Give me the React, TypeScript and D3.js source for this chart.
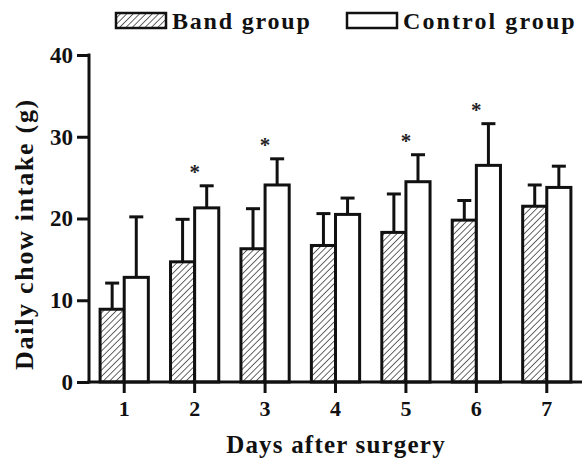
import React, { useEffect, useRef } from "react";
import * as d3 from "d3";

const days = ["1", "2", "3", "4", "5", "6", "7"];
const bandMean = [8.9, 14.7, 16.3, 16.7, 18.3, 19.8, 21.5];
const bandErr = [3.2, 5.2, 4.9, 3.9, 4.7, 2.4, 2.6];
const controlMean = [12.8, 21.3, 24.1, 20.5, 24.5, 26.5, 23.8];
const controlErr = [7.4, 2.7, 3.2, 2.0, 3.3, 5.1, 2.6];
const significant = [false, true, true, false, true, true, false];
const yTicks = [0, 10, 20, 30, 40];

const font = "'Liberation Serif', 'DejaVu Serif', serif";

const App = () => {
    const ref = useRef<SVGSVGElement>(null);

    useEffect(() => {
        const svg = d3.select(ref.current);
        svg.selectAll("*").remove();

        const width = 588;
        const height = 461;
        const margin = { top: 55, right: 6, bottom: 79, left: 89 };

        const defs = svg.append("defs");
        const pat = defs.append("pattern")
            .attr("id", "hatch")
            .attr("patternUnits", "userSpaceOnUse")
            .attr("width", 4.5)
            .attr("height", 4.5)
            .attr("patternTransform", "rotate(45)");
        pat.append("rect").attr("width", 4.5).attr("height", 4.5).attr("fill", "#fff");
        pat.append("line")
            .attr("x1", 0).attr("y1", 0).attr("x2", 0).attr("y2", 4.5)
            .attr("stroke", "#333").attr("stroke-width", 1.5);

        const x = d3.scaleBand()
            .domain(days)
            .range([margin.left, width - margin.right]);
        const inner = d3.scaleBand()
            .domain(["band", "control"])
            .range([0, x.bandwidth()])
            .paddingOuter(0.46)
            .paddingInner(0);
        const y = d3.scaleLinear()
            .domain([0, 40])
            .range([height - margin.bottom, margin.top]);

        const series = [
            { key: "band", mean: bandMean, err: bandErr, fill: "url(#hatch)" },
            { key: "control", mean: controlMean, err: controlErr, fill: "#fff" },
        ];

        const plot = svg.append("g");
        series.forEach((s) => {
            days.forEach((d, i) => {
                const x0 = x(d)! + inner(s.key)!;
                const cx = x0 + inner.bandwidth() / 2;
                const top = y(s.mean[i]);
                const errTop = y(s.mean[i] + s.err[i]);
                plot.append("line")
                    .attr("x1", cx).attr("x2", cx)
                    .attr("y1", top).attr("y2", errTop)
                    .attr("stroke", "#111").attr("stroke-width", 3);
                plot.append("line")
                    .attr("x1", cx - 7).attr("x2", cx + 7)
                    .attr("y1", errTop).attr("y2", errTop)
                    .attr("stroke", "#111").attr("stroke-width", 3);
                plot.append("rect")
                    .attr("x", x0)
                    .attr("y", top)
                    .attr("width", inner.bandwidth())
                    .attr("height", y(0) - top)
                    .attr("fill", s.fill)
                    .attr("stroke", "#111")
                    .attr("stroke-width", 3);
            });
        });

        // asterisks over control bars
        days.forEach((d, i) => {
            if (!significant[i]) return;
            const cx = x(d)! + x.bandwidth() / 2;
            svg.append("text")
                .attr("x", cx)
                .attr("y", y(controlMean[i] + controlErr[i]) - 7)
                .attr("text-anchor", "middle")
                .attr("font-family", font)
                .attr("font-size", 21)
                .attr("font-weight", "bold")
                .attr("fill", "#222")
                .text("*");
        });

        const xAxis = svg.append("g")
            .attr("transform", `translate(0,${y(0)})`)
            .call(d3.axisBottom(x).tickSize(11).tickSizeOuter(0));
        xAxis.select(".domain").attr("stroke", "#111").attr("stroke-width", 3)
            .attr("d", `M${margin.left - 1.5},0H${width - margin.right}`);
        xAxis.selectAll(".tick line").attr("stroke", "#111").attr("stroke-width", 3);
        xAxis.selectAll("text")
            .attr("y", 34)
            .attr("dy", 0)
            .attr("font-family", font)
            .attr("font-size", 22)
            .attr("font-weight", "bold")
            .attr("fill", "#111");

        const yAxis = svg.append("g")
            .attr("transform", `translate(${margin.left},0)`)
            .call(d3.axisLeft(y).tickValues(yTicks).tickSize(12).tickPadding(4).tickSizeOuter(0));
        yAxis.select(".domain").attr("stroke", "#111").attr("stroke-width", 3)
            .attr("d", `M0,${y(40) - 1.5}V${y(0) + 1.5}`);
        yAxis.selectAll(".tick line").attr("stroke", "#111").attr("stroke-width", 3);
        yAxis.selectAll("text")
            .attr("font-family", font)
            .attr("font-size", 23)
            .attr("font-weight", "bold")
            .attr("fill", "#111");

        svg.append("text")
            .attr("transform", `translate(33,234) rotate(-90)`)
            .attr("text-anchor", "middle")
            .attr("font-family", font)
            .attr("font-size", 26)
            .attr("letter-spacing", 1.7)
            .attr("font-weight", "bold")
            .attr("fill", "#111")
            .text("Daily chow intake (g)");

        svg.append("text")
            .attr("x", 336)
            .attr("y", 453)
            .attr("text-anchor", "middle")
            .attr("font-family", font)
            .attr("font-size", 25)
            .attr("letter-spacing", 1.2)
            .attr("font-weight", "bold")
            .attr("fill", "#111")
            .text("Days after surgery");

        // legend
        const legend = [
            { label: "Band group", fill: "url(#hatch)", x: 116, tx: 172, ls: 1.8 },
            { label: "Control group", fill: "#fff", x: 347, tx: 403, ls: 2.1 },
        ];
        legend.forEach((l) => {
            svg.append("rect")
                .attr("x", l.x).attr("y", 13)
                .attr("width", 50).attr("height", 15)
                .attr("fill", l.fill)
                .attr("stroke", "#111").attr("stroke-width", 2.5);
            svg.append("text")
                .attr("x", l.tx).attr("y", 28.5)
                .attr("font-family", font)
                .attr("font-size", 24)
                .attr("letter-spacing", l.ls)
                .attr("font-weight", "bold")
                .attr("fill", "#111")
                .text(l.label);
        });
    }, []);

    return (
        <svg
            ref={ref}
            width={588}
            height={461}
            style={{ position: "absolute", left: 0, top: 0, background: "#fff" }}
        />
    );
};

export default App;
